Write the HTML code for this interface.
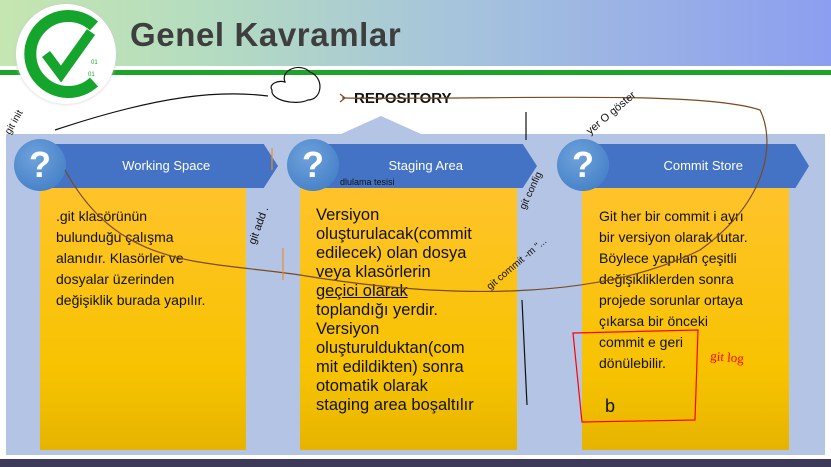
<!DOCTYPE html>
<html><head><meta charset="utf-8"><style>
*{margin:0;padding:0;box-sizing:border-box}
body{width:831px;height:467px;overflow:hidden;background:#fff;position:relative;font-family:"Liberation Sans",sans-serif}
.abs{position:absolute}
.hdr{left:0;top:0;width:831px;height:66px;background:linear-gradient(90deg,#c5e6b0 0%,#b4dcc0 25%,#a6c4dc 55%,#8c9ef0 100%)}
.gl{left:0;top:70px;width:831px;height:5px;background:#1ea32a}
.title{left:130px;top:16px;font-size:33px;font-weight:bold;color:#3e3e3e;letter-spacing:0.6px}
.panel{left:6px;top:134px;width:819px;height:321px;background:#b4c4e4}
.bot{left:0;top:459px;width:831px;height:8px;background:#3c3a58}
.card{background:linear-gradient(180deg,#ffc32a 0%,#f7c300 70%,#e6b400 100%)}
.ban{height:44px;background:#4472c4;color:#fff;font-size:13px;line-height:44px;text-align:center;clip-path:polygon(0 0,94% 0,100% 50%,94% 100%,0 100%)}
.q{width:52px;height:52px;border-radius:50%;background:radial-gradient(circle at 40% 35%,#6ea2dc,#3b78c2);color:#fff;font-size:36px;font-weight:bold;text-align:center;line-height:52px}
.t{font-size:14px;line-height:21px;color:#111}
.t2{font-size:16.5px;line-height:19px;color:#111}
</style></head><body>
<div class="abs hdr"></div>
<div class="abs" style="left:0;top:66px;width:831px;height:4px;background:#fff"></div>
<div class="abs gl"></div>
<div class="abs" style="left:16px;top:4px;width:100px;height:100px;border-radius:50%;background:#fff;box-shadow:0 0 3px #ccc"></div>
<svg class="abs" style="left:16px;top:4px" width="100" height="100"><path d="M78 22 A38 38 0 1 0 78 78" fill="none" stroke="#16a52c" stroke-width="12"/><path d="M30 50 L45 70 L75 28" fill="none" stroke="#16a52c" stroke-width="10"/><text x="75" y="60" font-size="6" fill="#16a52c">01</text><text x="72" y="72" font-size="6" fill="#16a52c">01</text></svg>
<div class="abs title">Genel Kavramlar</div>
<div class="abs" style="left:354px;top:90px;font-size:15px;font-weight:bold;color:#111">REPOSITORY</div>
<div class="abs panel"></div>
<div class="abs" style="left:341px;top:116px;width:0;height:0;border-left:40px solid transparent;border-right:40px solid transparent;border-bottom:18px solid #b4c4e4"></div>
<div class="abs bot"></div>

<div class="abs card" style="left:40px;top:188px;width:206px;height:262px"></div>
<div class="abs ban" style="left:40px;top:144px;width:238px">&nbsp;&nbsp;&nbsp;&nbsp;Working Space</div>
<div class="abs q" style="left:14px;top:139px">?</div>
<div class="abs t" style="left:56px;top:206px">.git klasörünün<br>bulunduğu çalışma<br>alanıdır. Klasörler ve<br>dosyalar üzerinden<br>değişiklik burada yapılır.</div>

<div class="abs card" style="left:300px;top:188px;width:217px;height:262px"></div>
<div class="abs ban" style="left:300px;top:144px;width:237px">&nbsp;&nbsp;&nbsp;&nbsp;Staging Area</div>
<div class="abs q" style="left:287px;top:139px">?</div>
<div class="abs t2" style="left:316px;top:206px">Versiyon<br>oluşturulacak(commit<br>edilecek) olan dosya<br>veya klasörlerin<br><u>geçici olarak</u><br>toplandığı yerdir.<br>Versiyon<br>oluşturulduktan(com<br>mit edildikten) sonra<br>otomatik olarak<br>staging area boşaltılır</div>

<div class="abs card" style="left:582px;top:188px;width:207px;height:262px"></div>
<div class="abs ban" style="left:583px;top:144px;width:226px">&nbsp;&nbsp;&nbsp;&nbsp;Commit Store</div>
<div class="abs q" style="left:557px;top:139px">?</div>
<div class="abs t" style="left:599px;top:206px">Git her bir commit i ayrı<br>bir versiyon olarak tutar.<br>Böylece yapılan çeşitli<br>değişikliklerden sonra<br>projede sorunlar ortaya<br>çıkarsa bir önceki<br>commit e geri<br>dönülebilir.</div>

<svg class="abs" style="left:0;top:0" width="831" height="467">
<g fill="none" stroke="#111" stroke-width="1.2">
<path d="M285 82 C280 70 300 62 310 72 C325 78 322 100 308 100 C295 106 270 100 272 90 C268 84 278 80 285 82Z"/>
<path d="M268 96 C220 90 160 95 55 130"/>
<path d="M526 112 L526 140"/>
<path d="M522 300 L527 405"/>
</g>
<path d="M345 98 L340 94 M345 98 L340 102 M342 98 C500 100 700 90 760 110 C775 140 770 200 700 250 C600 300 450 300 300 275 C200 260 120 270 65 170" fill="none" stroke="#7a4a20" stroke-width="1.2"/>
<path d="M272 148 L272 170 M283 248 L283 280" stroke="#f08a30" stroke-width="1.2"/>
<path d="M573 333 L698 330 L695 420 L582 422 Z" fill="none" stroke="#f00" stroke-width="1.2"/>
<text x="710" y="360" font-size="13" fill="#f00" font-family="Liberation Serif" transform="rotate(5 710 360)">git log</text>
<text x="605" y="412" font-size="18" fill="#111">b</text>
<text x="10" y="135" font-size="10" fill="#111" transform="rotate(-60 10 135)">git init</text>
<text x="255" y="245" font-size="11" fill="#111" transform="rotate(-70 255 245)">git add .</text>
<text x="525" y="210" font-size="10" fill="#111" transform="rotate(-65 525 210)">git config</text>
<text x="490" y="290" font-size="10" fill="#111" transform="rotate(-40 490 290)">git commit -m "...</text>
<text x="340" y="185" font-size="9" fill="#111">dlulama tesisi</text>
<text x="590" y="135" font-size="11" fill="#111" transform="rotate(-40 590 135)">yer O göster</text>
</svg>
</body></html>
